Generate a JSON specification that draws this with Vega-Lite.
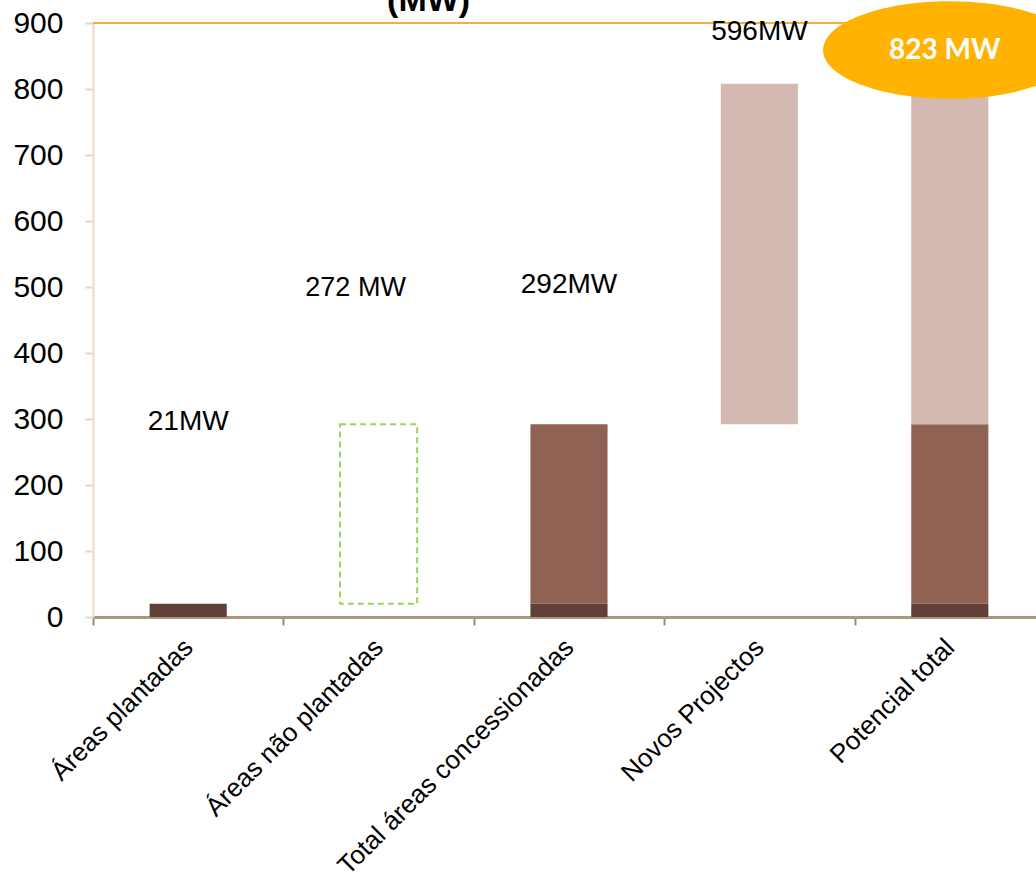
{
  "$schema": "https://vega.github.io/schema/vega-lite/v6.json",
  "width": 943,
  "height": 594,
  "autosize": {"type": "none"},
  "padding": {"left": 93, "top": 23, "right": 0, "bottom": 263},
  "background": "white",
  "config": {"view": {"stroke": null}, "font": "Liberation Sans"},
  "datasets": {
    "bars": [
      {"cat": "Áreas plantadas", "lo": 0, "hi": 20, "part": "Áreas plantadas"},
      {"cat": "Total áreas concessionadas", "lo": 0, "hi": 20, "part": "Áreas plantadas"},
      {"cat": "Total áreas concessionadas", "lo": 20, "hi": 292, "part": "Áreas não plantadas"},
      {"cat": "Novos Projectos", "lo": 292, "hi": 808, "part": "Novos Projectos"},
      {"cat": "Potencial total", "lo": 0, "hi": 20, "part": "Áreas plantadas"},
      {"cat": "Potencial total", "lo": 20, "hi": 292, "part": "Áreas não plantadas"},
      {"cat": "Potencial total", "lo": 292, "hi": 808, "part": "Novos Projectos"}
    ],
    "box": [{"cat": "Áreas não plantadas", "lo": 20, "hi": 292}],
    "labels": [
      {"cat": "Áreas plantadas", "y": 295, "t": "21MW"},
      {"cat": "Total áreas concessionadas", "y": 503, "t": "292MW"},
      {"cat": "Novos Projectos", "y": 886, "t": "596MW"}
    ],
    "label2": [{"cat": "Áreas não plantadas", "y": 498, "t": "272 MW"}],
    "bubble": [{"cat": "Potencial total", "y": 859, "t": "823 MW"}],
    "title": [{"cat": "Áreas não plantadas", "y": 918, "t": "(MW)"}]
  },
  "encoding": {
    "x": {
      "field": "cat",
      "type": "nominal",
      "sort": ["Áreas plantadas", "Áreas não plantadas", "Total áreas concessionadas", "Novos Projectos", "Potencial total"],
      "scale": {"domain": ["Áreas plantadas", "Áreas não plantadas", "Total áreas concessionadas", "Novos Projectos", "Potencial total"], "range": [0, 952], "paddingInner": 0, "paddingOuter": 0},
      "title": null,
      "axis": {
        "labelAngle": -45,
        "labelAlign": "right",
        "labelBaseline": "middle",
        "labelFontSize": 26,
        "labelColor": "#000000",
        "labelFont": "Liberation Sans",
        "domainColor": "#a8997c",
        "domainWidth": 3,
        "tickColor": "#8c8c8c",
        "tickWidth": 2,
        "tickSize": 8,
        "tickBand": "extent",
        "labelPadding": 18,
        "labelLimit": 450
      }
    }
  },
  "layer": [
    {
      "data": {"values": [{"v": 900}]},
      "mark": {"type": "rule", "color": "#f2ad45", "strokeWidth": 2},
      "encoding": {"x": null, "y": {"field": "v", "type": "quantitative"}}
    },
    {
      "data": {"name": "bars"},
      "mark": {"type": "bar", "width": {"band": 0.405}},
      "encoding": {
        "y": {
          "field": "lo",
          "type": "quantitative",
          "scale": {"domain": [0, 900], "nice": false},
          "title": null,
          "axis": {
            "values": [0, 100, 200, 300, 400, 500, 600, 700, 800, 900],
            "grid": false,
            "labelFontSize": 30,
            "labelColor": "#000000",
            "labelFont": "Liberation Sans",
            "labelPadding": 22,
            "tickSize": 8,
            "tickColor": "#d9d9d9",
            "tickWidth": 2,
            "domainColor": "#eddcc0",
            "domainWidth": 2
          }
        },
        "y2": {"field": "hi"},
        "color": {
          "field": "part",
          "type": "nominal",
          "scale": {"domain": ["Áreas plantadas", "Áreas não plantadas", "Novos Projectos"], "range": ["#614137", "#8f6253", "#d4b8b2"]},
          "legend": null
        }
      }
    },
    {
      "data": {"name": "box"},
      "mark": {"type": "bar", "width": {"band": 0.405}, "fill": "transparent", "stroke": "#9ad35c", "strokeWidth": 2, "strokeDash": [6, 4]},
      "encoding": {
        "y": {"field": "lo", "type": "quantitative"},
        "y2": {"field": "hi"}
      }
    },
    {
      "data": {"name": "labels"},
      "mark": {"type": "text", "fontSize": 28, "font": "Liberation Sans", "color": "#000000", "baseline": "middle", "align": "center"},
      "encoding": {
        "y": {"field": "y", "type": "quantitative"},
        "text": {"field": "t"}
      }
    },
    {
      "data": {"name": "label2"},
      "mark": {"type": "text", "fontSize": 27, "font": "Liberation Sans", "color": "#000000", "baseline": "middle", "align": "center", "dx": -23},
      "encoding": {
        "y": {"field": "y", "type": "quantitative"},
        "text": {"field": "t"}
      }
    },
    {
      "data": {"name": "bubble"},
      "mark": {"type": "point", "filled": true, "opacity": 1, "color": "#ffb300", "size": 38000, "shape": "M -1.3 0 A 1.3 0.5 0 1 0 1.3 0 A 1.3 0.5 0 1 0 -1.3 0 Z", "strokeWidth": 0},
      "encoding": {
        "y": {"field": "y", "type": "quantitative"}
      }
    },
    {
      "data": {"name": "bubble"},
      "mark": {"type": "text", "fontSize": 28, "font": "Lato", "fontWeight": "bold", "color": "#ffffff", "baseline": "middle", "align": "center", "dx": -5, "dy": 1},
      "encoding": {
        "y": {"field": "y", "type": "quantitative"},
        "text": {"field": "t"}
      }
    },
    {
      "data": {"name": "title"},
      "mark": {"type": "text", "fontSize": 34, "font": "Liberation Sans", "fontWeight": "bold", "color": "#000000", "baseline": "alphabetic", "align": "center", "dx": 50},
      "encoding": {
        "y": {"field": "y", "type": "quantitative"},
        "text": {"field": "t"}
      }
    }
  ]
}
